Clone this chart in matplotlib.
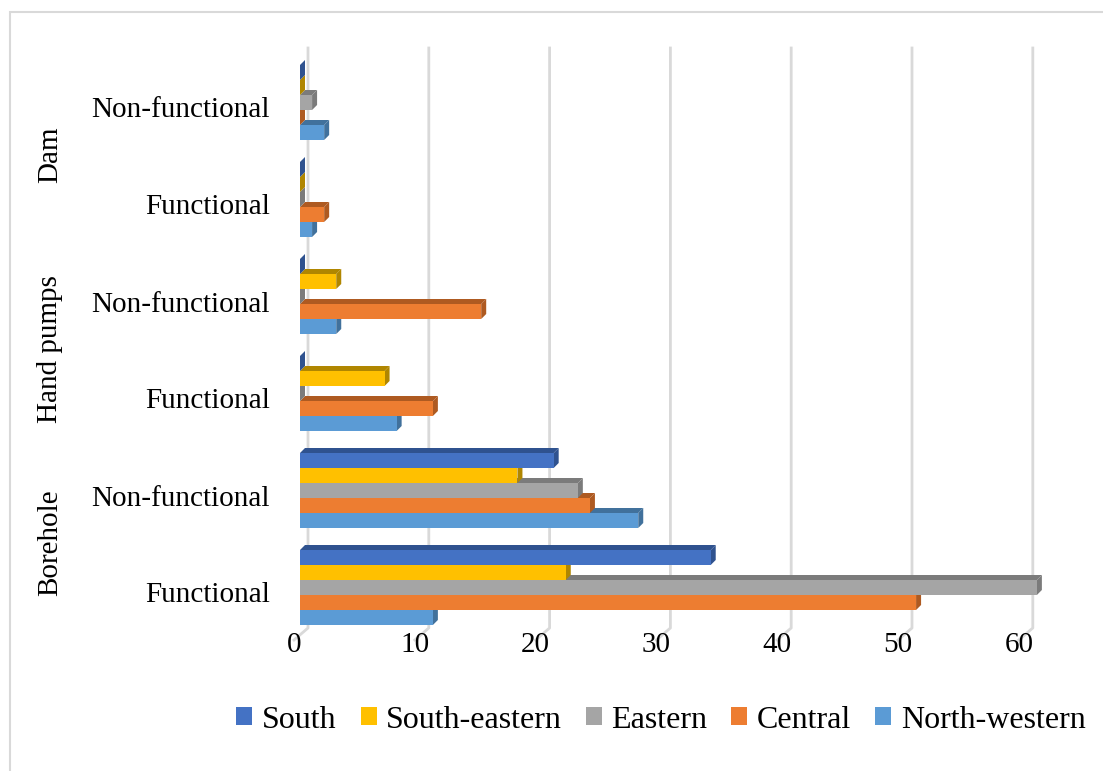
import numpy as np
import matplotlib.pyplot as plt
from matplotlib.patches import Polygon, Rectangle
from matplotlib.lines import Line2D

plt.rcParams['font.family'] = ['Liberation Serif', 'DejaVu Serif']

# categories, bottom to top
groups = ["Borehole", "Hand pumps", "Dam"]
status = ["Functional", "Non-functional"]

# series drawn bottom to top within each category
series = ["North-western", "Central", "Eastern", "South-eastern", "South"]
north_western = [11, 28, 8, 3, 1, 2]
central = [51, 24, 11, 15, 2, 0]
eastern = [61, 23, 0, 0, 0, 1]
south_eastern = [22, 18, 7, 3, 0, 0]
south = [34, 21, 0, 0, 0, 0]
values = [north_western, central, eastern, south_eastern, south]

face = ["#5B9BD5", "#ED7D31", "#A5A5A5", "#FFC000", "#4472C4"]
dark = ["#41719C", "#AE5A21", "#7B7B7B", "#B08600", "#2F528F"]

W, H = 1103, 771
fig = plt.figure(figsize=(W / 100, H / 100), dpi=100)

# axes box in pixels (front plane of the bars)
x0, x1 = 300, 1040
y_top, y_bot = 48, 640
px_per_unit = 12.08
cat0, cat_step = 587.5, 97.0

ax = fig.add_axes([x0 / W, 1 - y_bot / H, (x1 - x0) / W, (y_bot - y_top) / H])
ax.set_xlim(0, (x1 - x0) / px_per_unit)
ax.set_ylim(-(y_bot - cat0) / cat_step, (cat0 - y_top) / cat_step)
for s in ax.spines.values():
    s.set_visible(False)

dxu = 1 / px_per_unit      # one pixel in x data units
dyu = 1 / cat_step         # one pixel in y data units

# back-wall gridlines with floor diagonal
y_wall_bot = -(628 - cat0) / cat_step
y_floor = ax.get_ylim()[0]
y_wall_top = ax.get_ylim()[1]
ticks = np.arange(0, 61, 10)
for t in ticks:
    xb = t + 8 * dxu
    ax.add_line(Line2D([xb, xb, t - 6 * dxu], [y_wall_top, y_wall_bot, y_floor],
                       color="#D9D9D9", lw=2, zorder=1, clip_on=False))

# 3D-style bars
h = 15 * dyu
d = 5  # depth in pixels
ddx, ddy = d * dxu, d * dyu
n = len(north_western)
for i in range(n):
    for k in range(len(series)):
        v = values[k][i]
        yb = i + (k - 2.5) * h
        yt = yb + h
        z = 3 + k * 0.01 + i * 0.1
        # top face
        ax.add_patch(Polygon([(0, yt), (v, yt), (v + ddx, yt + ddy), (ddx, yt + ddy)],
                             closed=True, fc=dark[k], ec="none", zorder=z, clip_on=False))
        # side face
        ax.add_patch(Polygon([(v, yb), (v + ddx, yb + ddy), (v + ddx, yt + ddy), (v, yt)],
                             closed=True, fc=dark[k], ec="none", zorder=z, clip_on=False))
        # front face
        ax.add_patch(Rectangle((0, yb), v, h, fc=face[k], ec="none", zorder=z + 0.001,
                               clip_on=False))

# x tick labels sit under the floor edge
ax.set_xticks([])
for t in ticks:
    ax.text(t - 6 * dxu, y_floor - 5 * dyu, str(t), ha="center", va="center",
            fontsize=21, color="#000000")

# category labels
ax.set_yticks([])
for i in range(n):
    ax.text(-30 * dxu, i - 8 * dyu, status[i % 2], ha="right", va="center",
            fontsize=21, clip_on=False)
for g, name in enumerate(groups):
    ax.text(-250 * dxu, 2 * g + 0.5 - 4 * dyu, name, ha="center", va="center",
            rotation=90, fontsize=21, clip_on=False)

# legend
handles = [Rectangle((0, 0), 1, 1, fc=face[k], ec="none") for k in range(4, -1, -1)]
labels = [series[k] for k in range(4, -1, -1)]
fig.legend(handles, labels, loc="center", bbox_to_anchor=(661 / W, 1 - 720 / H),
           ncol=5, frameon=False, fontsize=23, handlelength=0.5, handleheight=0.5,
           handletextpad=0.3, columnspacing=0.75, borderaxespad=0)

# chart border
fig.add_artist(Rectangle((10 / W, -0.1), 1.2, 1 - 12 / H + 0.1, transform=fig.transFigure,
                         fill=False, ec="#D9D9D9", lw=1.5))

fig.savefig("out.png", dpi=100)
